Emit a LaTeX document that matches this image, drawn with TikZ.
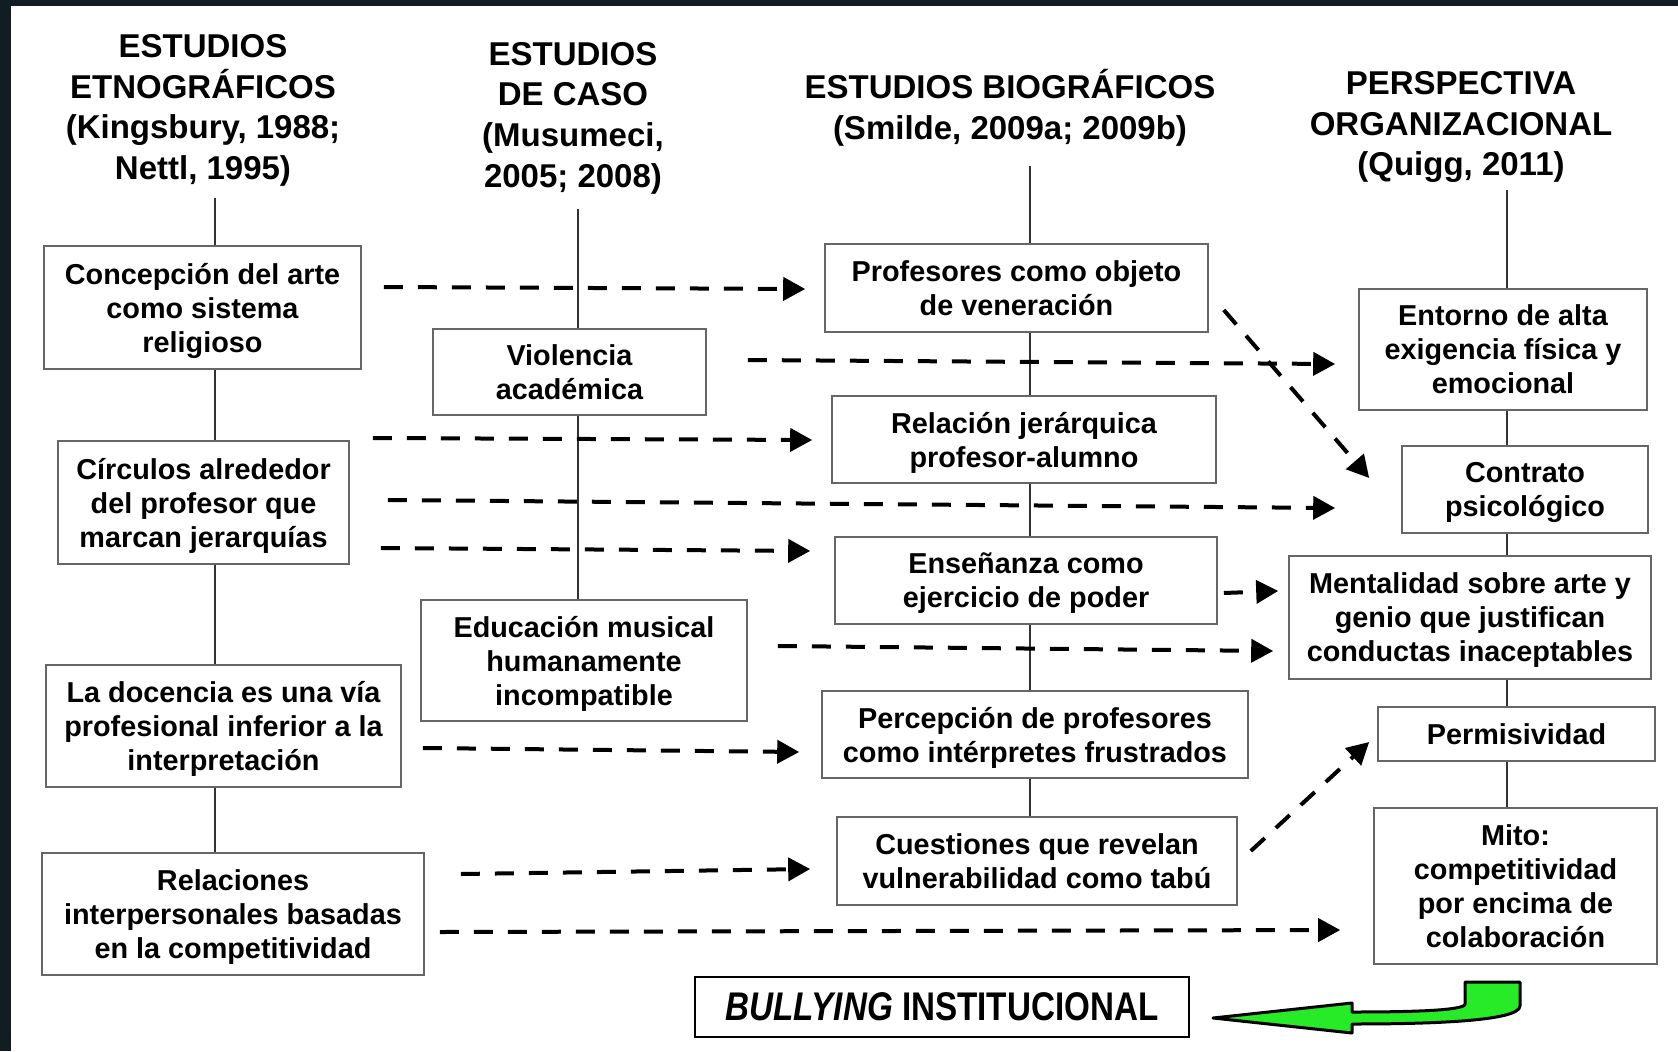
\documentclass[tikz,border=0pt]{standalone}
\usepackage{fontspec}
\setmainfont{Liberation Sans}
\usetikzlibrary{arrows.meta,backgrounds}
\definecolor{verde}{RGB}{40,235,40}
\definecolor{fondo}{RGB}{16,30,34}

\begin{document}
\begin{tikzpicture}[x=0.5pt,y=-0.5pt]
%estilos
\tikzstyle{caja}=[draw=black!60,line width=0.8pt,fill=white,align=center,inner sep=0pt,
  font=\fontsize{14.4}{17}\selectfont\bfseries,text depth=0pt]
\tikzstyle{titulo}=[align=center,font=\fontsize{16.5}{20.3}\selectfont\bfseries]
\tikzstyle{flecha}=[line width=2pt,dash pattern=on 9.5pt off 7.5pt,
  -{Triangle[length=11pt,width=11.5pt]}]
\tikzstyle{eje}=[line width=0.7pt,black!80]

\useasboundingbox (0,0) rectangle (1678,1051);

%titulos
\node[titulo] (h1) at (203,110.5) {ESTUDIOS\\ETNOGRÁFICOS\\(Kingsbury, 1988;\\Nettl, 1995)};
\node[titulo] (h2) at (573,118) {ESTUDIOS\\DE CASO\\(Musumeci,\\2005; 2008)};
\node[titulo] (h3) at (1010,108) {ESTUDIOS BIOGRÁFICOS\\(Smilde, 2009a; 2009b)};
\node[titulo] (h4) at (1461,127) {PERSPECTIVA\\ORGANIZACIONAL\\(Quigg, 2011)};

%etnograficos
\node[caja,minimum width=158.5pt,minimum height=61.5pt] (b1) at (202.5,307.5) {Concepción del arte\\como sistema\\religioso};
\node[caja,minimum width=145.5pt,minimum height=61.5pt] (b2) at (203.5,502.5) {Círculos alrededor\\del profesor que\\marcan jerarquías};
\node[caja,minimum width=177.5pt,minimum height=61pt] (b3) at (223.5,726) {La docencia es una vía\\profesional inferior a la\\interpretación};
\node[caja,minimum width=191pt,minimum height=61pt] (b4) at (233,914) {Relaciones\\interpersonales basadas\\en la competitividad};

%caso
\node[caja,minimum width=136.5pt,minimum height=43pt] (b5) at (569.5,372) {Violencia\\académica};
\node[caja,minimum width=163pt,minimum height=60.5pt] (b6) at (584,660.5) {Educación musical\\humanamente\\incompatible};

%biograficos
\node[caja,minimum width=191.5pt,minimum height=44pt] (b7) at (1016.5,288) {Profesores como objeto\\de veneración};
\node[caja,minimum width=192pt,minimum height=43.5pt] (b8) at (1024,439.5) {Relación jerárquica\\profesor-alumno};
\node[caja,minimum width=191pt,minimum height=43.5pt] (b9) at (1026,580.5) {Enseñanza como\\ejercicio de poder};
\node[caja,minimum width=213pt,minimum height=43.5pt] (b10) at (1035,734.5) {Percepción de profesores\\como intérpretes frustrados};
\node[caja,minimum width=200pt,minimum height=44pt] (b11) at (1037,861) {Cuestiones que revelan\\vulnerabilidad como tabú};

%organizacional
\node[caja,minimum width=144pt,minimum height=60.5pt] (b12) at (1503,349.5) {Entorno de alta\\exigencia física y\\emocional};
\node[caja,minimum width=123pt,minimum height=43.5pt] (b13) at (1525,489.5) {Contrato\\psicológico};
\node[caja,minimum width=181pt,minimum height=61.5pt] (b14) at (1470,617.5) {Mentalidad sobre arte y\\genio que justifican\\conductas inaceptables};
\node[caja,minimum width=138.5pt,minimum height=27pt] (b15) at (1516.5,734) {Permisividad};
\node[caja,minimum width=141.5pt,minimum height=78pt] (b16) at (1515.5,886) {Mito:\\competitividad\\por encima de\\colaboración};

\node[caja,draw=black,line width=1pt,minimum width=247pt,minimum height=30pt,font=\fontsize{20}{24}\selectfont\bfseries]
  (b17) at (942,1007) {\scalebox{0.83}[1]{\textit{BULLYING} INSTITUCIONAL}};

%ejes
\coordinate (t1) at (215,198);
\coordinate (t2) at (578,209);
\coordinate (t3) at (1030,166);
\coordinate (t4) at (1507,190);
\begin{pgfonlayer}{background}
  \fill[white] (0,0) rectangle (1678,1051);
  \fill[fondo] (0,0) rectangle (11,1051);
  \fill[fondo] (0,0) rectangle (1678,6);
  \draw[eje] (t1) -- (t1 |- b4.north);
  \draw[eje] (t2) -- (t2 |- b6.north);
  \draw[eje] (t3) -- (t3 |- b11.north);
  \draw[eje] (t4) -- (t4 |- b16.north);
\end{pgfonlayer}

%flechas
\draw[flecha] ([shift={(22,-20.5)}]b1.east) -- ([shift={(-19,1)}]b7.west);
\draw[flecha] ([shift={(41,-12)}]b5.east) -- ([shift={(-23,14.5)}]b12.west);
\draw[flecha] ([shift={(15,22)}]b7.east) -- ([shift={(-32,-11.5)}]b13.west);
\draw[flecha] ([shift={(23,-64.5)}]b2.east) -- ([shift={(-19,0.5)}]b8.west);
\draw[flecha] ([shift={(38,-2.5)}]b2.east) -- ([shift={(-66,18.5)}]b13.west);
\draw[flecha] ([shift={(31,45.5)}]b2.east) -- ([shift={(-24,-29.5)}]b9.west);
\draw[flecha] ([shift={(6,12.5)}]b9.east) -- ([shift={(-10,-26.5)}]b14.west);
\draw[flecha] ([shift={(30,-14.5)}]b6.east) -- ([shift={(-15,33.5)}]b14.west);
\draw[flecha] ([shift={(21,22)}]b3.east) -- ([shift={(-22,17.5)}]b10.west);
\draw[flecha] ([shift={(36,-40)}]b4.east) -- ([shift={(-26,8)}]b11.west);
\draw[flecha] ([shift={(15,18)}]b4.east) -- ([shift={(-33,44)}]b16.west);
\draw[flecha] ([shift={(13,-10)}]b11.east) -- ([shift={(-8,8)}]b15.west);

%flecha verde
\draw[line width=1.5pt,fill=verde,line join=round] (1465,982) -- (1520,982) -- (1520,1006)
  .. controls (1520,1022) and (1420,1024) .. (1352,1024) -- (1352,1033) -- (1213,1018)
  -- (1352,1003) -- (1352,1012) .. controls (1420,1012) and (1465,1010) .. (1465,1004) -- cycle;

\end{tikzpicture}
\end{document}
